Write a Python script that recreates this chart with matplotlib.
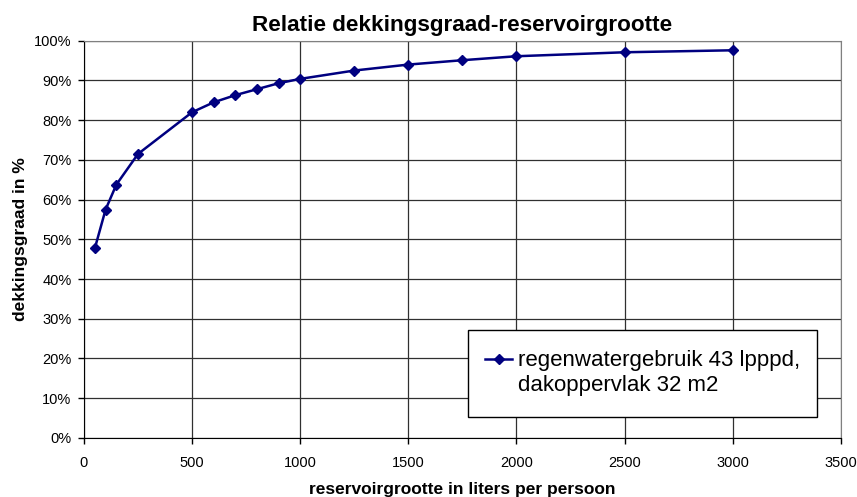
import matplotlib.pyplot as plt
from matplotlib.lines import Line2D
from matplotlib.patches import Rectangle
from matplotlib.ticker import PercentFormatter

# Reservoir size (liters per person) vs coverage (%)
reservoir = [50, 100, 150, 250, 500, 600, 700, 800, 900, 1000, 1250, 1500, 1750, 2000, 2500, 3000]
coverage = [47.7, 57.5, 63.8, 71.5, 82.0, 84.5, 86.3, 87.8, 89.3, 90.4, 92.5, 94.0, 95.1, 96.1, 97.1, 97.6]
series_label = ["regenwatergebruik 43 lpppd,", "dakoppervlak 32 m2"]

plt.rcParams['font.family'] = ['Liberation Sans', 'DejaVu Sans']

fig = plt.figure(figsize=(8.57, 4.97), dpi=100)
ax = fig.add_axes([0.098, 0.119, 0.883, 0.799])

line, = ax.plot(reservoir, coverage, color='#000080', lw=1.8, marker='D', markersize=5,
                zorder=3)

ax.set_xlim(0, 3500)
ax.set_ylim(0, 100)
ax.set_xticks(range(0, 3501, 500))
ax.set_yticks(range(0, 101, 10))
ax.yaxis.set_major_formatter(PercentFormatter(decimals=0))
ax.tick_params(direction='out', length=4, width=1, labelsize=10.5, colors='black', pad=5)
ax.tick_params(axis='x', pad=9)

ax.grid(True, color='#303030', lw=0.9)
ax.set_axisbelow(True)
for side in ['top', 'right']:
    ax.spines[side].set_color('#808080')
for side in ['left', 'bottom']:
    ax.spines[side].set_color('black')

ax.set_title("Relatie dekkingsgraad-reservoirgrootte", fontsize=16.2, fontweight='bold', pad=7)
ax.set_xlabel("reservoirgrootte in liters per persoon", fontsize=12.5, fontweight='bold', labelpad=9)
ax.set_ylabel("dekkingsgraad in %", fontsize=12.5, fontweight='bold', labelpad=4)

# legend box drawn separately so its height can match the original
box = Rectangle((0.507, 0.053), 0.461, 0.219, transform=ax.transAxes,
                facecolor='white', edgecolor='black', lw=1, zorder=5)
ax.add_patch(box)

# second label line gets an empty handle so the marker sits next to the first line
blank = Line2D([], [], color='none')
leg = ax.legend([line, blank], series_label, loc='center', bbox_to_anchor=(0.738, 0.1625),
                fontsize=16, frameon=False,
                handlelength=1.2, handletextpad=0.25, borderpad=0.8, labelspacing=0.18)
leg.set_zorder(6)

fig.savefig("out.png", dpi=100)
